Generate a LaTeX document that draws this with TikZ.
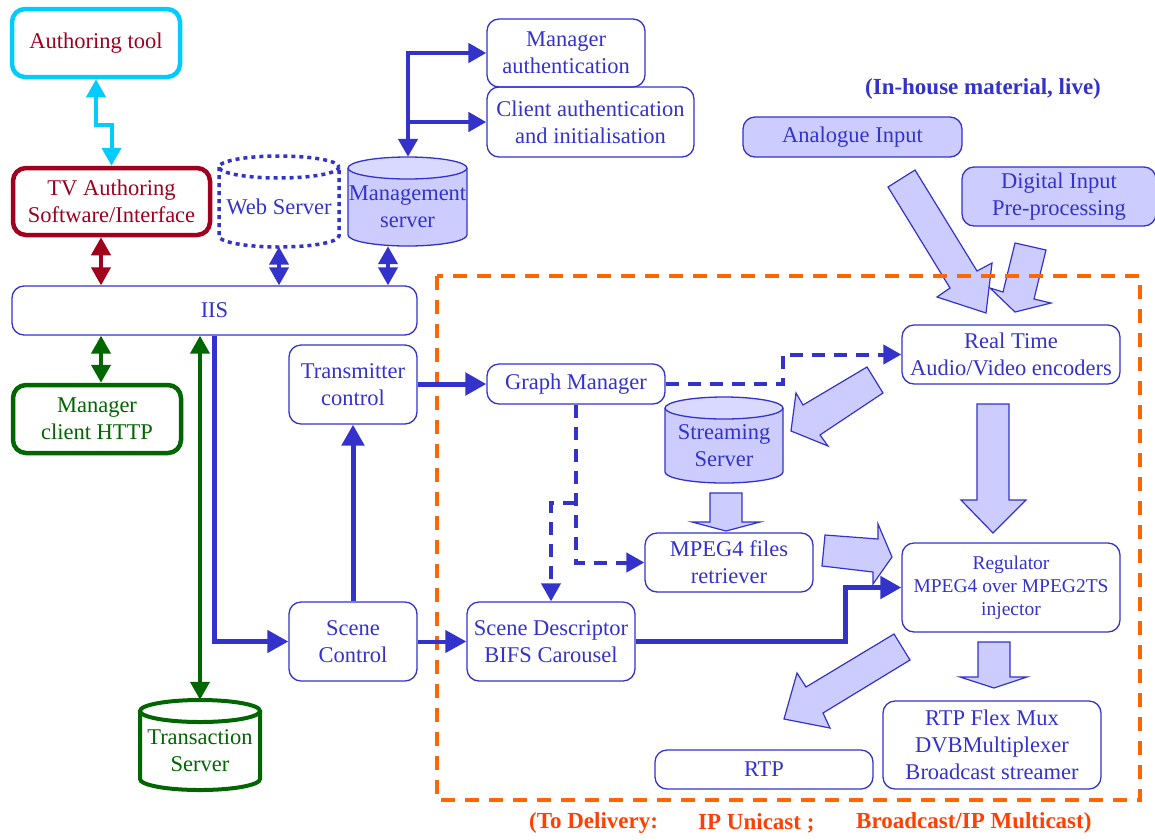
\documentclass[tikz,border=0pt]{standalone}
\usepackage{fontspec}
\setmainfont{Liberation Serif}
\usetikzlibrary{arrows.meta}
\definecolor{ink}{HTML}{3333CC}
\definecolor{pale}{HTML}{CCCCFF}
\definecolor{wine}{HTML}{A0001E}
\definecolor{forest}{HTML}{006600}
\definecolor{sky}{HTML}{00CCFF}
\definecolor{zone}{HTML}{FF6600}
\definecolor{delivery}{HTML}{FF4000}
\tikzset{
  txt/.style={font=\fontsize{22.5}{27}\selectfont, align=center, inner sep=0pt},
  box/.style={txt, draw=ink, line width=1.3pt, rounded corners=12pt, text=ink},
  filledbox/.style={box, fill=pale},
  heavybox/.style={txt, line width=4.5pt, rounded corners=13pt},
  cylbox/.style={inner sep=0pt, draw=none},
  cyltext/.style={txt, text=ink},
  fat/.style={fill=pale, draw=ink, line width=1.2pt, line join=miter},
  solidlink/.style={draw=ink, line width=4.5pt},
  dashlink/.style={draw=ink, line width=4pt, dash pattern=on 13pt off 9pt},
  Tsm/.tip={Triangle[length=18pt,width=19pt]},
  Tbig/.tip={Triangle[length=21pt,width=22pt]},
  boldnote/.style={font=\fontsize{23}{27}\selectfont\bfseries, inner sep=0pt},
}
% drum (cylinder): #1 outline/fill options, #2 cx, #3 top centre y, #4 bottom centre y, #5 rx, #6 ry, #7 top options
\newcommand\drum[7]{%
  \path[#1, draw=none] (#2-#5,#3) -- (#2-#5,#4)
    arc[start angle=180,end angle=0,x radius=#5,y radius=#6] -- (#2+#5,#3)
    arc[start angle=0,end angle=-180,x radius=#5,y radius=#6] -- cycle;
  \path[#1, fill=none] (#2-#5,#3) -- (#2-#5,#4)
    arc[start angle=180,end angle=0,x radius=#5,y radius=#6] -- (#2+#5,#3);
  \path[#1, #7] (#2,#3) ellipse[x radius=#5,y radius=#6];
}
\begin{document}
\begin{tikzpicture}[x=1pt,y=-1pt]
\useasboundingbox (0,0) rectangle (1155,839);

% broad flow arrows
\draw[fat] (888,187) -- (915,170) -- (977,271) -- (992,263) -- (986,313) -- (937,297) -- (950,288) -- cycle;
\draw[fat] (1015,243) -- (1046,250) -- (1034,299) -- (1051,303) -- (1015,312) -- (990,288) -- (1003,292) -- cycle;
\draw[fat] (867,367) -- (803,405) -- (796,393) -- (791,431) -- (828,446) -- (820,435) -- (883,393) -- cycle;
\draw[fat] (710,493) -- (742,493) -- (742,522) -- (760,522) -- (726,531) -- (692,522) -- (710,522) -- cycle;
\draw[fat] (825,535) -- (878,539) -- (878,524) -- (892,557) -- (873,584) -- (873,572) -- (822,566) -- cycle;
\draw[fat] (977,404) -- (1009,404) -- (1009,500) -- (1026,500) -- (993,533) -- (961,500) -- (977,500) -- cycle;
\draw[fat] (978,642) -- (1010,642) -- (1010,677) -- (1027,677) -- (994,688) -- (960,677) -- (978,677) -- cycle;
\draw[fat] (894,634) -- (910,660) -- (823,713) -- (830,728) -- (784,719) -- (797,673) -- (806,687) -- cycle;

% streaming zone
\draw[zone, line width=3.5pt, dash pattern=on 14pt off 10pt] (437,276) rectangle (1140,800);

% boxes
\node[heavybox, draw=sky, text=wine, minimum width=168pt, minimum height=68pt] (authtool) at (96,43) {Authoring tool};
\node[heavybox, draw=wine, text=wine, minimum width=197pt, minimum height=67pt] (tvauth) at (111.5,201.5) {TV Authoring\\Software/Interface};
\node[box, minimum width=405pt, minimum height=49pt] (iis) at (214.5,310.5) {IIS};
\node[heavybox, draw=forest, text=forest, minimum width=168pt, minimum height=68pt] (mclient) at (97,419) {Manager\\client HTTP};
\node[box, minimum width=158pt, minimum height=68pt] (mgmtauth) at (566,53) {Manager\\authentication};
\node[box, minimum width=207pt, minimum height=70pt] (clientauth) at (590.5,122) {Client authentication\\and initialisation};
\node[box, minimum width=128pt, minimum height=79pt] (transctl) at (353,384.5) {Transmitter\\control};
\node[box, minimum width=128pt, minimum height=79pt] (scenectl) at (353,641.5) {Scene\\Control};
\node[box, minimum width=178pt, minimum height=40pt] (graph) at (576,384) {Graph Manager};
\node[box, minimum width=168pt, minimum height=59pt] (mpegfiles) at (729,562.5) {MPEG4 files\\retriever};
\node[box, minimum width=168pt, minimum height=79pt] (scenedesc) at (551,641.5) {Scene Descriptor\\BIFS Carousel};
\node[box, minimum width=218pt, minimum height=59pt] (realtime) at (1011,354.5) {Real Time\\Audio/Video encoders};
\node[box, font=\fontsize{19.5}{23}\selectfont, minimum width=218pt, minimum height=89pt] (regulator) at (1011,587.5) {Regulator\\MPEG4 over MPEG2TS\\injector};
\node[box, minimum width=218pt, minimum height=39pt] (rtp) at (764,769.5) {RTP};
\node[box, minimum width=218pt, minimum height=88pt] (flexmux) at (992,745) {RTP Flex Mux\\DVBMultiplexer\\Broadcast streamer};
\node[filledbox, minimum width=219pt, minimum height=40pt] (analogue) at (852.5,137) {Analogue Input};
\node[filledbox, minimum width=194pt, minimum height=59pt] (digital) at (1059,196.5) {Digital Input\\Pre-processing};

% servers
\drum{draw=ink, line width=3.5pt, dash pattern=on 4pt off 4pt}{279}{167}{236}{60}{11}{}
\node[cylbox, minimum width=120pt, minimum height=90pt] (websrv) at (279,201.5) {};
\node[cyltext] (weblabel) at (279,207) {Web Server};

\drum{draw=ink, fill=pale, line width=1.3pt}{407.5}{168}{235}{59.5}{11}{fill=pale!75!white}
\node[cylbox, minimum width=119pt, minimum height=89pt] (mgmt) at (407.5,201.5) {};
\node[cyltext] (mgmtlabel) at (407.5,207) {Management\\server};

\drum{draw=ink, fill=pale, line width=1.3pt}{724}{408}{472}{59}{11}{fill=pale!75!white}
\node[cylbox, minimum width=118pt, minimum height=86pt] (stream) at (724,440) {};
\node[cyltext] (streamlabel) at (724,446) {Streaming\\Server};

\drum{draw=forest, fill=white, line width=4pt}{200}{711}{779}{60}{11}{}
\node[cylbox, minimum width=120pt, minimum height=90pt] (trans) at (200,745) {};
\node[txt, text=forest] (translabel) at (200,751) {Transaction\\Server};

% notes
\node[boldnote, text=ink] (live) at (983,89) {(In-house material, live)};
\node[boldnote, text=delivery, anchor=west] (deliv1) at (529,823) {(To Delivery:};
\node[boldnote, text=delivery, anchor=west] (deliv2) at (698,823) {IP Unicast ;};
\node[boldnote, text=delivery, anchor=west] (deliv3) at (856,823) {Broadcast/IP Multicast)};

% links
\draw[sky, line width=4pt, {Tsm}-{Tsm}] (authtool.south) -- ++(0,46) -| (tvauth.north);
\draw[wine, line width=4pt, {Tsm}-{Tsm}] (101,0 |- tvauth.south) -- (101,0 |- iis.north);
\draw[ink, line width=4pt, {Tsm}-{Tsm}] (websrv.south) -- (websrv.south |- iis.north);
\draw[ink, line width=4pt, {Tsm}-{Tsm}] (388,0 |- mgmt.south) -- (388,0 |- iis.north);
\draw[forest, line width=4pt, {Tsm}-{Tsm}] (101,0 |- iis.south) -- (101,0 |- mclient.north);
\draw[forest, line width=4pt, {Tsm}-{Tsm}] (trans.north |- iis.south) -- (trans.north);

\draw[solidlink, {Tsm}-{Tsm}] (mgmtauth.west) -- (mgmtauth.west -| 408,0) -- (408,0 |- mgmt.north);
\draw[solidlink, -{Tsm}] (clientauth.west -| 408,0) -- (clientauth.west);

\draw[solidlink, -{Tbig}] (iis.south) |- (scenectl.west);
\draw[solidlink, line width=5pt, -{Tbig}] (scenectl.north) -- (transctl.south);
\draw[solidlink, line width=5pt, -{Tbig}] (transctl.east |- graph.west) -- (graph.west);
\draw[solidlink, line width=4pt, -{Tbig}] (scenectl.east) -- (scenedesc.west);
\draw[solidlink, line width=5pt, -{Tbig}] (scenedesc.east) -- (845,0 |- scenedesc.east) |- (regulator.west);

\draw[dashlink, -{Tsm}] (graph.east) -- (783,0 |- graph.east) |- (realtime.west);
\draw[dashlink, -{Tsm}] (graph.south) |- (mpegfiles.west);
\coordinate (gbranch) at (graph.south |- 0,503);
\draw[dashlink, -{Tsm}] (gbranch) -| (scenedesc.north);
\end{tikzpicture}
\end{document}
